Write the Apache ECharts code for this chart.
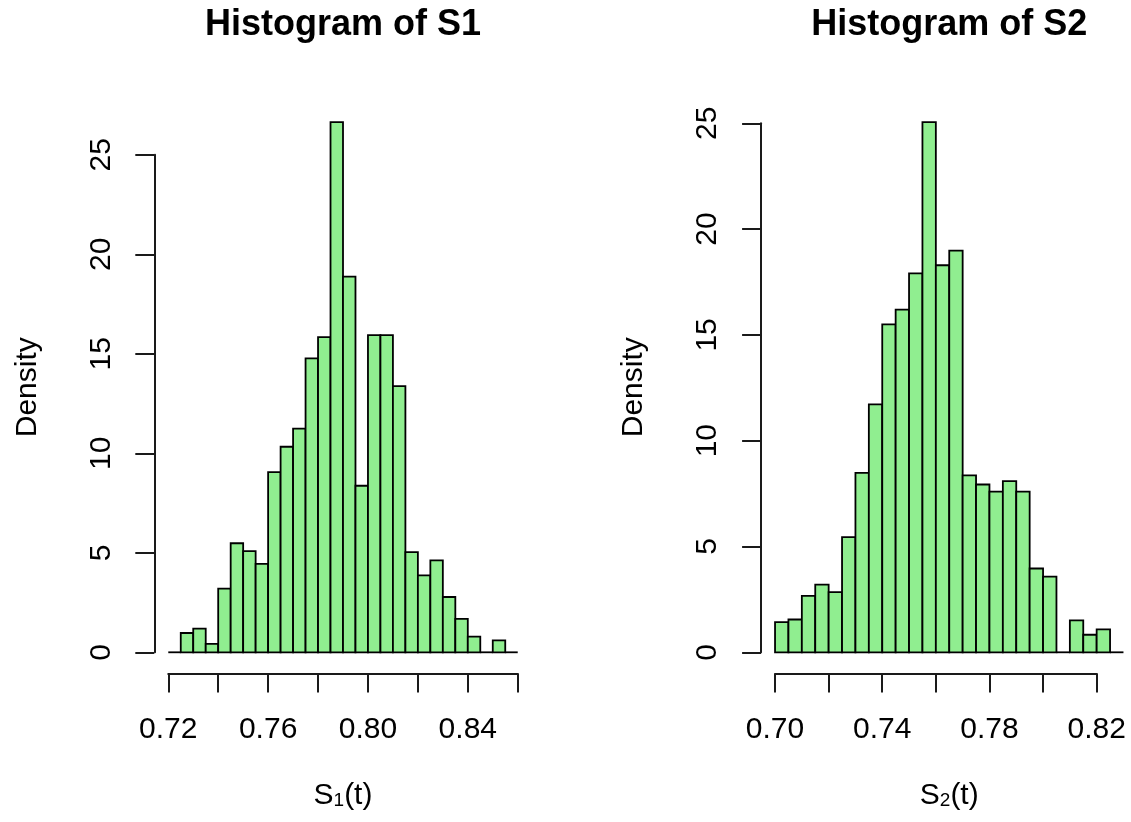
<!DOCTYPE html>
<html>
<head>
<meta charset="utf-8">
<script src="https://cdn.jsdelivr.net/npm/echarts@6/dist/echarts.min.js"></script>
<style>
html,body{margin:0;padding:0;background:#fff;}
#chart{width:1131px;height:822px;}
</style>
</head>
<body>
<div id="chart"></div>
<script>
// ---- data ----
const s1BinStart = [0.720,0.725,0.730,0.735,0.740,0.745,0.750,0.755,0.760,0.765,0.770,0.775,0.780,0.785,0.790,0.795,0.800,0.805,0.810,0.815,0.820,0.825,0.830,0.835,0.840,0.845,0.850,0.855];
const s1BinEnd   = [0.725,0.730,0.735,0.740,0.745,0.750,0.755,0.760,0.765,0.770,0.775,0.780,0.785,0.790,0.795,0.800,0.805,0.810,0.815,0.820,0.825,0.830,0.835,0.840,0.845,0.850,0.855,0.860];
const s1Density  = [0,0.97,1.19,0.42,3.20,5.48,5.08,4.44,9.05,10.33,11.24,14.77,15.84,26.64,18.88,8.37,15.94,15.94,13.38,5.03,3.87,4.62,2.78,1.68,0.79,0,0.60,0];

const s2BinStart = [0.700,0.705,0.710,0.715,0.720,0.725,0.730,0.735,0.740,0.745,0.750,0.755,0.760,0.765,0.770,0.775,0.780,0.785,0.790,0.795,0.800,0.805,0.810,0.815,0.820,0.825];
const s2BinEnd   = [0.705,0.710,0.715,0.720,0.725,0.730,0.735,0.740,0.745,0.750,0.755,0.760,0.765,0.770,0.775,0.780,0.785,0.790,0.795,0.800,0.805,0.810,0.815,0.820,0.825,0.830];
const s2Density  = [1.43,1.55,2.67,3.20,2.84,5.44,8.48,11.72,15.50,16.19,17.91,25.05,18.29,18.98,8.36,7.93,7.59,8.09,7.59,3.96,3.58,0,1.51,0.83,1.08,0];

const s1XTicks  = [0.72,0.74,0.76,0.78,0.80,0.82,0.84,0.86];
const s1XLabels = ['0.72','0.76','0.80','0.84'];
const s2XTicks  = [0.70,0.72,0.74,0.76,0.78,0.80,0.82];
const s2XLabels = ['0.70','0.74','0.78','0.82'];
const yTicks    = [0,5,10,15,20,25];

const titles = ['Histogram of S1','Histogram of S2'];
const xNames = ['{a|S}{b|1}{a|(t)}','{a|S}{b|2}{a|(t)}'];
const yName  = 'Density';

// ---- layout ----
const FONT = "'Liberation Sans', Arial, Helvetica, sans-serif";
const PLOT_TOP = 101, PLOT_BOTTOM = 673.5;
const plots = [
  {left:154.3, right:531.7, start:s1BinStart, end:s1BinEnd, dens:s1Density, xt:s1XTicks, xl:s1XLabels},
  {left:761.1, right:1137.4, start:s2BinStart, end:s2BinEnd, dens:s2Density, xt:s2XTicks, xl:s2XLabels}
];

const grids = [], xAxes = [], yAxes = [], series = [], titleComps = [];
const lineStyle = {color:'#1a1a1a', width:2};

plots.forEach((p, i) => {
  const x0 = p.start[0], x1 = p.end[p.end.length-1], dx = x1 - x0;
  const xlim = [x0 - 0.04*dx, x1 + 0.04*dx];
  const ymax = Math.max(...p.dens);
  const ylim = [-0.04*ymax, 1.04*ymax];
  const W = p.right - p.left, H = PLOT_BOTTOM - PLOT_TOP;
  const px = v => p.left + (v - xlim[0])/(xlim[1]-xlim[0])*W;
  const py = v => PLOT_BOTTOM - (v - ylim[0])/(ylim[1]-ylim[0])*H;

  // grid for bars (plot region)
  const gBar = grids.length;
  grids.push({left:p.left, top:PLOT_TOP, width:W, height:H, outerBoundsMode:'none', containLabel:false});
  xAxes.push({gridIndex:gBar, type:'value', min:xlim[0], max:xlim[1],
    axisLine:{show:false}, axisTick:{show:false}, axisLabel:{show:false}, splitLine:{show:false},
    name:xNames[i], nameLocation:'middle', nameGap:107,
    nameTextStyle:{rich:{
      a:{fontSize:30, fontFamily:FONT, color:'#000', lineHeight:30},
      b:{fontSize:19, fontFamily:FONT, color:'#000', lineHeight:15, verticalAlign:'bottom'}
    }}});
  yAxes.push({gridIndex:gBar, type:'value', min:ylim[0], max:ylim[1],
    axisLine:{show:false}, axisTick:{show:false}, axisLabel:{show:false}, splitLine:{show:false},
    name:yName, nameLocation:'middle', nameGap:112,
    nameTextStyle:{fontSize:30, fontFamily:FONT, color:'#000', lineHeight:30}});
  series.push({
    type:'custom', xAxisIndex:xAxes.length-1, yAxisIndex:yAxes.length-1, clip:false,
    data:p.dens.map((d,k) => [p.start[k], p.end[k], d]),
    encode:{x:[0,1], y:2},
    renderItem:(params, api) => {
      const a = api.coord([api.value(0), api.value(2)]);
      const b = api.coord([api.value(1), 0]);
      if (api.value(2) === 0) {
        return {type:'line', shape:{x1:a[0], y1:b[1], x2:b[0], y2:b[1]},
          style:{stroke:'#000', lineWidth:1.8}};
      }
      return {type:'rect', shape:{x:a[0], y:a[1], width:b[0]-a[0], height:b[1]-a[1]},
        style:{fill:'#90EE90', stroke:'#000', lineWidth:1.8}};
    },
    silent:true
  });

  // grid for the R-style axes
  const xt0 = p.xt[0], xtN = p.xt[p.xt.length-1];
  const yt0 = yTicks[0], ytN = yTicks[yTicks.length-1];
  const gAx = grids.length;
  const axLeft = px(xt0), axTop = py(ytN);
  grids.push({left:axLeft, top:axTop, width:px(xtN)-axLeft, height:py(yt0)-axTop, outerBoundsMode:'none', containLabel:false});
  xAxes.push({gridIndex:gAx, type:'value', min:xt0, max:xtN, interval:p.xt[1]-p.xt[0],
    offset:PLOT_BOTTOM - py(yt0),
    axisLine:{show:true, onZero:false, lineStyle:lineStyle},
    axisTick:{show:true, length:19, lineStyle:lineStyle},
    splitLine:{show:false},
    axisLabel:{show:true, margin:41, fontSize:30, fontFamily:FONT, color:'#000',
      formatter:v => { const s = (Math.round(v*100)/100).toFixed(2); return p.xl.includes(s) ? s : ''; }}});
  yAxes.push({gridIndex:gAx, type:'value', min:yt0, max:ytN, interval:yTicks[1]-yTicks[0],
    offset:axLeft - p.left,
    axisLine:{show:true, onZero:false, lineStyle:lineStyle},
    axisTick:{show:true, length:19, lineStyle:lineStyle},
    splitLine:{show:false},
    axisLabel:{show:true, rotate:90, margin:38, fontSize:30, fontFamily:FONT, color:'#000'}});

  titleComps.push({text:titles[i], left:(p.left+p.right)/2, textAlign:'center', top:7, padding:0,
    textStyle:{fontSize:36, fontWeight:'bold', fontFamily:FONT, color:'#000'}});
});

const chart = echarts.init(document.getElementById('chart'), null, {renderer:'canvas'});
chart.setOption({
  animation:false,
  backgroundColor:'#ffffff',
  title:titleComps,
  grid:grids,
  xAxis:xAxes,
  yAxis:yAxes,
  series:series
});
</script>
</body>
</html>
